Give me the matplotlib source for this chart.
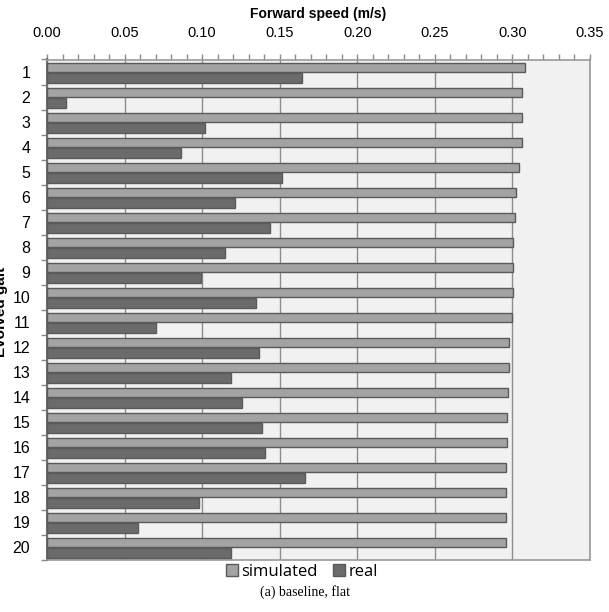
import matplotlib
matplotlib.use("Agg")
import matplotlib.pyplot as plt
from matplotlib.ticker import MultipleLocator, FixedLocator, NullFormatter
import numpy as np

gaits = [str(i) for i in range(1, 21)]
simulated = [0.3078, 0.3063, 0.3061, 0.3061, 0.3043, 0.3023, 0.3018, 0.3003, 0.3003, 0.3001,
             0.2998, 0.2976, 0.2976, 0.2973, 0.2966, 0.2963, 0.2956, 0.2956, 0.2956, 0.2956]
real = [0.1646, 0.0125, 0.1016, 0.0863, 0.1513, 0.1214, 0.1435, 0.1149, 0.0994, 0.1345,
        0.0703, 0.1365, 0.1189, 0.1254, 0.1387, 0.1405, 0.1663, 0.0978, 0.0587, 0.1189]
x_ticks = [0.00, 0.05, 0.10, 0.15, 0.20, 0.25, 0.30, 0.35]

SIM_COLOR = "#a3a3a3"
REAL_COLOR = "#6b6b6b"
EDGE = "#5a5a5a"

fig = plt.figure(figsize=(6.09, 6.12), dpi=100)
W, H = 609, 612
left, right, top, bottom = 47, 590, 59.5, 560
ax = fig.add_axes([left / W, 1 - bottom / H, (right - left) / W, (bottom - top) / H])
ax.set_facecolor("#f1f1f1")

pos = np.arange(1, len(gaits) + 1)
ax.barh(pos - 0.19, simulated, height=0.36, color=SIM_COLOR, edgecolor=EDGE,
        linewidth=1.0, zorder=3, label="simulated")
ax.barh(pos + 0.22, real, height=0.40, color=REAL_COLOR, edgecolor=EDGE,
        linewidth=1.0, zorder=3, label="real")

ax.set_xlim(0, 0.35)
ax.set_ylim(len(gaits) + 0.5, 0.5)

# x axis on top
ax.xaxis.tick_top()
ax.xaxis.set_label_position("top")
ax.set_xticks(x_ticks)
ax.set_xticklabels([f"{t:.2f}" for t in x_ticks], fontsize=10.5, fontname="Liberation Sans")
ax.xaxis.set_minor_locator(MultipleLocator(0.01))
ax.tick_params(axis="x", which="major", pad=10)
ax.tick_params(axis="x", which="both", direction="out", length=4, width=1,
               color="#8a8a8a", top=True, bottom=False)
ax.set_xlabel("Forward speed (m/s)", fontsize=10, fontweight="bold",
              fontname="Liberation Sans", labelpad=6)
ax.grid(axis="x", which="major", color="#8c8c8c", linewidth=1.0, zorder=1)

# y axis: labels at category centres, tick marks at category boundaries
ax.set_yticks(pos)
ax.set_yticklabels(gaits, fontsize=11.5, fontname="Liberation Sans")
ax.yaxis.set_minor_locator(FixedLocator(np.arange(0.5, len(gaits) + 1, 1.0)))
ax.yaxis.set_minor_formatter(NullFormatter())
ax.tick_params(axis="y", which="major", length=0, pad=12)
ax.tick_params(axis="y", which="minor", direction="out", length=4, width=1, color="#8a8a8a")

for side, sp in ax.spines.items():
    sp.set_color("#9a9a9a")
    sp.set_linewidth(1.2)
ax.spines["left"].set_color("#707070")
ax.spines["left"].set_linewidth(1.5)

fig.text(1.5 / W, 1 - 312 / H, "Evolved gait", rotation=90, ha="center", va="center",
         fontsize=11, fontweight="bold", fontname="Liberation Sans")

leg = fig.legend(loc="center", bbox_to_anchor=(302 / W, 1 - 572 / H), ncol=2, frameon=False,
                 handlelength=0.75, handleheight=0.75, handletextpad=0.2,
                 columnspacing=0.9, prop={"family": "Open Sans", "size": 12})

fig.text(305 / W, 1 - 592 / H, "(a) baseline, flat", ha="center", va="center",
         fontsize=10, fontname="Liberation Serif")

fig.savefig("out.png", dpi=100)
